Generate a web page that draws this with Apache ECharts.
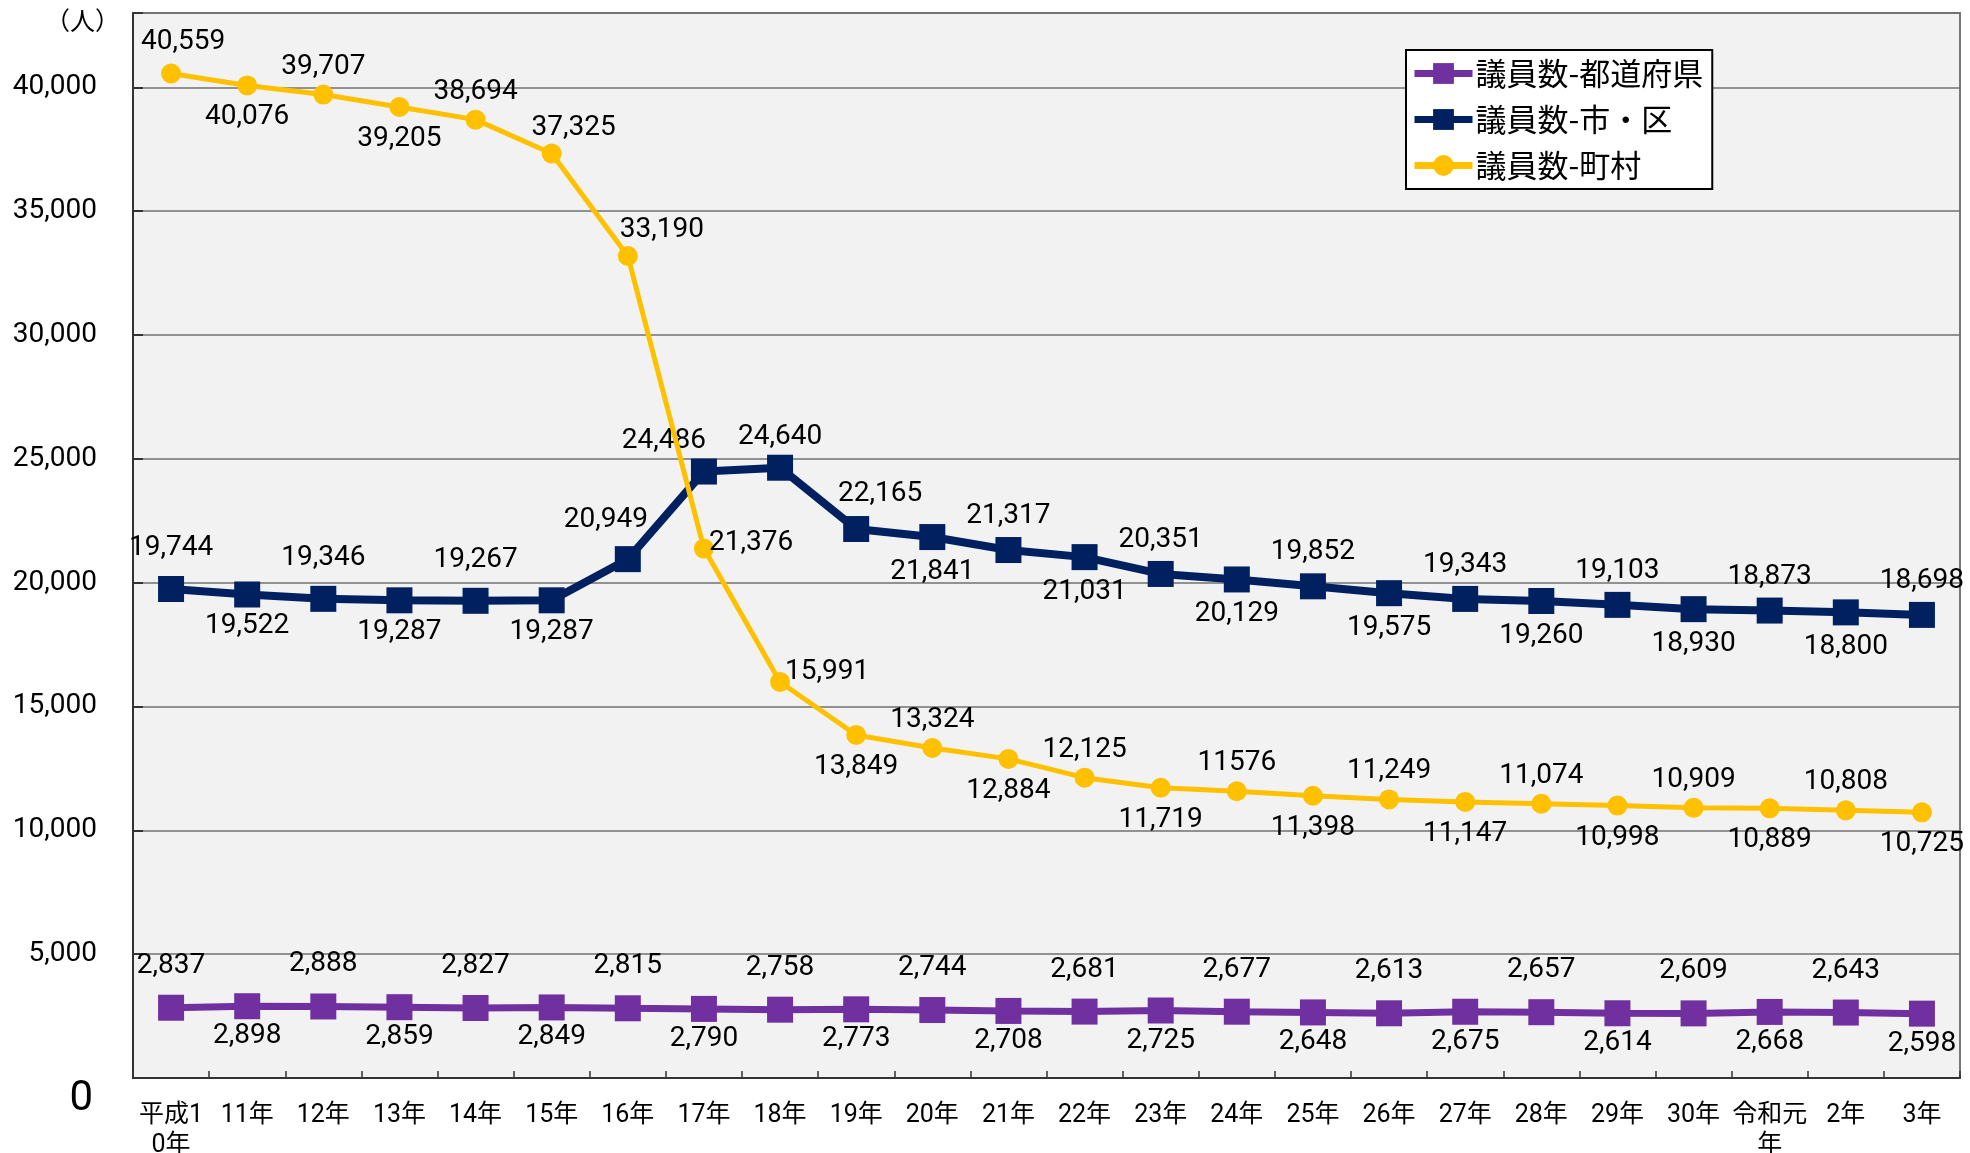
<!DOCTYPE html>
<html>
<head>
<meta charset="utf-8">
<script src="https://cdn.jsdelivr.net/npm/echarts@6/dist/echarts.min.js"></script>
<style>
html,body{margin:0;padding:0;background:#fff;}
#chart{width:1970px;height:1153px;}
</style>
</head>
<body>
<div id="chart"></div>
<script>
// ---- data ----
const categories = ['平成1\n0年','11年','12年','13年','14年','15年','16年','17年','18年','19年','20年','21年','22年','23年','24年','25年','26年','27年','28年','29年','30年','令和元\n年','2年','3年'];
const seriesNames = ['議員数-都道府県','議員数-市・区','議員数-町村'];
const prefValues = [2837,2898,2888,2859,2827,2849,2815,2790,2758,2773,2744,2708,2681,2725,2677,2648,2613,2675,2657,2614,2609,2668,2643,2598];
const cityValues = [19744,19522,19346,19287,19267,19287,20949,24486,24640,22165,21841,21317,21031,20351,20129,19852,19575,19343,19260,19103,18930,18873,18800,18698];
const townValues = [40559,40076,39707,39205,38694,37325,33190,21376,15991,13849,13324,12884,12125,11719,11576,11398,11249,11147,11074,10998,10909,10889,10808,10725];
const yTicks = [0,5000,10000,15000,20000,25000,30000,35000,40000];
const unitLabel = '（人）';
// labels shown without digit grouping in the original
const townNoComma = [14];

const FONT = 'Roboto, "Noto Sans CJK JP", sans-serif';
const fmt = v => v.toLocaleString('en-US');

function lbl(pos, dist, off) {
  const o = {show:true, position:pos, distance:dist, fontSize:28, fontFamily:FONT, color:'#000'};
  if (off) o.offset = off;
  return o;
}

function prefLabel(i){ return i % 2 === 0 ? lbl('top',15) : lbl('bottom',3); }
function cityLabel(i){
  if (i === 6) return lbl('top',12,[-22,0]);
  if (i === 7) return lbl('top',12,[-40,8]);
  if (i === 8) return lbl('top',12,[0,8]);
  if (i === 9) return lbl('top',8,[24,0]);
  if (i < 6) return i % 2 === 0 ? lbl('top',14) : lbl('bottom',5);
  return i % 2 === 1 ? lbl('top',7) : lbl('bottom',8);
}
function townLabel(i){
  if (i === 0) return lbl('top',7,[12,0]);
  if (i === 5) return lbl('top',2,[22,0]);
  if (i === 6) return lbl('top',2,[34,0]);
  if (i === 7) return lbl('right',5,[-10,-6]);
  if (i === 8) return lbl('right',5,[-10,-10]);
  if (i < 5) return i % 2 === 0 ? lbl('top',4) : lbl('bottom',8);
  return i % 2 === 0 ? lbl('top',4) : lbl('bottom',8);
}

function build(values, labelFn, noComma){
  return values.map((v,i)=>({
    value:v,
    label: Object.assign(labelFn(i), {formatter: (noComma||[]).includes(i) ? String(v) : fmt(v)})
  }));
}

const chart = echarts.init(document.getElementById('chart'), null, {renderer:'canvas'});
chart.setOption({
  animation:false,
  backgroundColor:'#fff',
  textStyle:{fontFamily:FONT},
  grid:{left:133, top:13, right:10, bottom:75, show:true, backgroundColor:'#f2f2f2', borderColor:'#777', borderWidth:2, outerBoundsMode:'none', containLabel:false},
  legend:{
    orient:'vertical', left:1406, top:50,
    backgroundColor:'#fff', borderColor:'#000', borderWidth:2,
    padding:[8,9,8,5], itemWidth:58, itemHeight:26, itemGap:15,
    lineStyle:{width:7},
    textStyle:{fontSize:31, lineHeight:26, fontFamily:'"Noto Sans CJK JP", sans-serif', color:'#000', padding:[0,0,0,-2]},
    data:seriesNames
  },
  graphic:[{type:'text', left:45, top:8, style:{text:unitLabel, fontSize:25, fontFamily:'"Noto Sans CJK JP", sans-serif', fill:'#000'}}],
  xAxis:{
    type:'category', data:categories, boundaryGap:true,
    axisLine:{lineStyle:{color:'#333', width:2}},
    axisTick:{show:true, inside:true, length:7, lineStyle:{color:'#333', width:1.5}},
    axisLabel:{fontSize:25, fontFamily:FONT, color:'#000', margin:23, lineHeight:30, interval:0}
  },
  yAxis:{
    type:'value', min:0, max:43000, interval:5000,
    axisLine:{show:true, lineStyle:{color:'#333', width:2}},
    axisTick:{show:true, inside:true, length:10, lineStyle:{color:'#333', width:2}},
    splitLine:{lineStyle:{color:'#707070', width:1.5}},
    axisLabel:{
      margin:36, fontSize:28, fontFamily:FONT, color:'#000',
      formatter: v => yTicks.includes(v) ? (v === 0 ? '{z|0}' : fmt(v)) : '',
      rich:{z:{fontSize:42, fontFamily:FONT, color:'#000', padding:[42,4,0,0]}}
    }
  },
  series:[
    {name:seriesNames[0], type:'line', data:build(prefValues,prefLabel), symbol:'rect', symbolSize:26,
     lineStyle:{color:'#7030A0', width:7}, itemStyle:{color:'#7030A0'}, z:3},
    {name:seriesNames[1], type:'line', data:build(cityValues,cityLabel), symbol:'rect', symbolSize:26,
     lineStyle:{color:'#002060', width:8}, itemStyle:{color:'#002060'}, z:4},
    {name:seriesNames[2], type:'line', data:build(townValues,townLabel,townNoComma), symbol:'circle', symbolSize:20,
     lineStyle:{color:'#FFC000', width:5}, itemStyle:{color:'#FFC000'}, z:5}
  ]
});
</script>
</body>
</html>
